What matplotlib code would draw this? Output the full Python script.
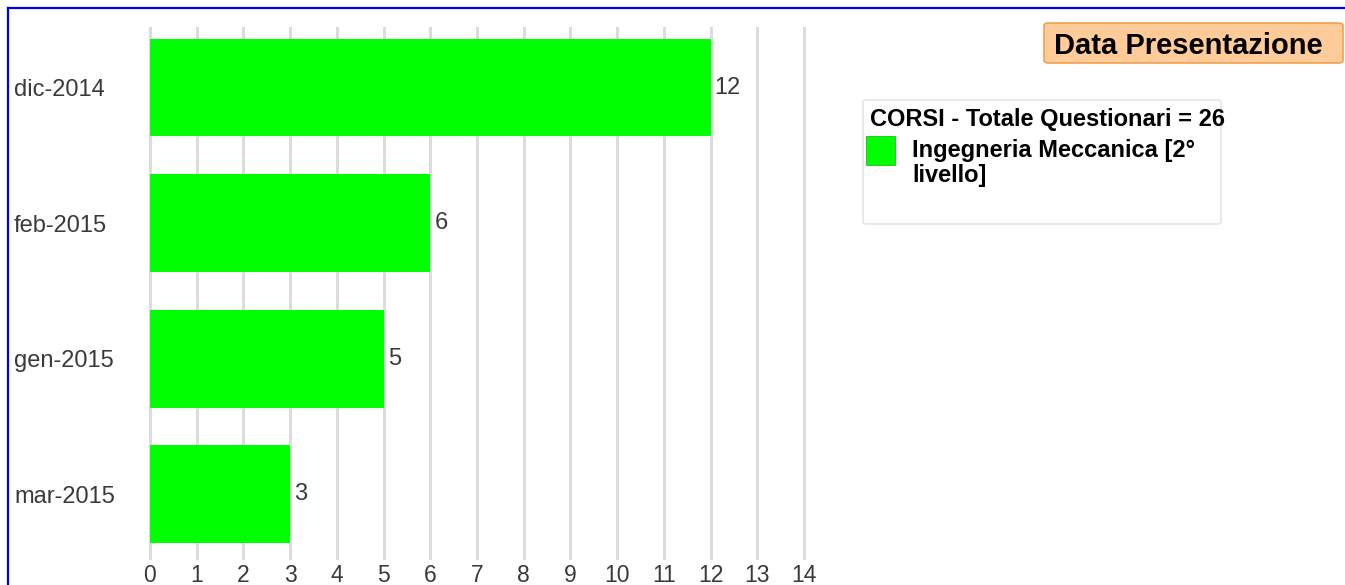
import matplotlib
matplotlib.use("Agg")
import matplotlib.pyplot as plt
from matplotlib.patches import FancyBboxPatch, Rectangle
from matplotlib.lines import Line2D

categories = ["dic-2014", "feb-2015", "gen-2015", "mar-2015"]
values = [12, 6, 5, 3]
series_name = "Ingegneria Meccanica [2°\nlivello]"
legend_title = "CORSI - Totale Questionari = 26"
chart_title = "Data Presentazione"
x_ticks = list(range(0, 15))

W, H = 1345, 585
plt.rcParams["font.family"] = ["Liberation Sans", "DejaVu Sans"]
fig = plt.figure(figsize=(W / 100, H / 100), dpi=100)

def fx(px):
    return px / W

def fy(py):
    return 1 - py / H

bar_color = "#00ff00"
text_color = "#3a3a3a"

ax = fig.add_axes([fx(150), fy(558), fx(804) - fx(150), fy(28) - fy(558)])
ypos = list(range(len(categories)))
ax.barh(ypos, values, height=0.72, color=bar_color, zorder=3)
ax.set_ylim(len(categories) - 1 + 0.47, -0.44)
ax.set_xlim(0, 14)
ax.set_xticks(x_ticks)
ax.set_xticklabels([str(t) for t in x_ticks])
ax.set_yticks(ypos)
ax.set_yticklabels(categories)
ax.grid(axis="x", color="#dcdcdc", linewidth=2.2, zorder=0)
ax.grid(axis="y", visible=False)
for gl in ax.get_xgridlines():
    gl.set_clip_on(False)
for s in ax.spines.values():
    s.set_visible(False)
ax.tick_params(axis="x", length=0, pad=4, labelsize=16.5, labelcolor=text_color)
ax.tick_params(axis="y", length=0, pad=136 / (100 / 72), labelsize=17, labelcolor=text_color)
for lab in ax.get_yticklabels():
    lab.set_horizontalalignment("left")

for y, v in zip(ypos, values):
    ax.annotate(str(v), (v, y), xytext=(3, 0), textcoords="offset points",
                va="center", ha="left", fontsize=17, color=text_color, zorder=4)

# Title box
tb = FancyBboxPatch((fx(1044), fy(63)), fx(1343) - fx(1044), fy(23) - fy(63),
                    boxstyle="round,pad=0,rounding_size=0.004",
                    transform=fig.transFigure, facecolor="#ffcc99",
                    edgecolor="#f0a050", linewidth=1.2)
fig.add_artist(tb)
fig.text(fx(1054), fy(43), chart_title, fontsize=21, fontweight="bold",
         color="black", ha="left", va="center_baseline")

# Legend box
lb = FancyBboxPatch((fx(863), fy(224)), fx(1221) - fx(863), fy(100) - fy(224),
                    boxstyle="round,pad=0,rounding_size=0.003",
                    transform=fig.transFigure, facecolor="white",
                    edgecolor="#e2e2e2", linewidth=1.0)
fig.add_artist(lb)
t = fig.text(fx(870), fy(117), legend_title, fontsize=17, fontweight="bold",
             color="black", ha="left", va="center_baseline")
t.set_clip_path(lb)
sq = Rectangle((fx(866), fy(165)), fx(895) - fx(866), fy(136) - fy(165),
               transform=fig.transFigure, facecolor=bar_color,
               edgecolor="#22bb22", linewidth=0.6)
fig.add_artist(sq)
fig.text(fx(912), fy(139), series_name, fontsize=17, fontweight="bold",
         color="black", ha="left", va="top", linespacing=1.12)

# Blue frame
fig.add_artist(Line2D([fx(8), 1], [fy(8), fy(8)], transform=fig.transFigure,
                      color="#0000ee", linewidth=1.6))
fig.add_artist(Line2D([fx(8), fx(8)], [fy(8), 0], transform=fig.transFigure,
                      color="#0000ee", linewidth=1.6))

fig.savefig("out.png", dpi=100)
